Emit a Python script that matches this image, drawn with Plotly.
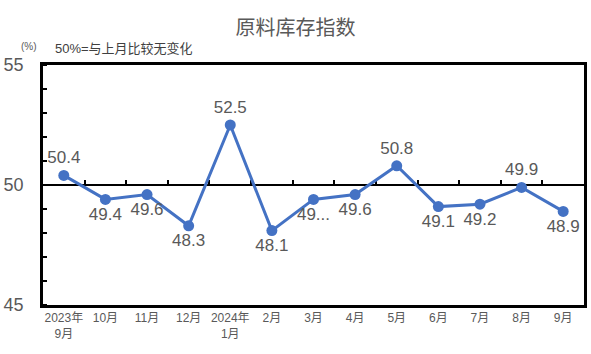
import plotly.graph_objects as go

# ---- data ----
months = ["2023年<br>9月", "10月", "11月", "12月", "2024年<br>1月", "2月", "3月",
          "4月", "5月", "6月", "7月", "8月", "9月"]
values = [50.4, 49.4, 49.6, 48.3, 52.5, 48.1, 49.4, 49.6, 50.8, 49.1, 49.2, 49.9, 48.9]
labels = ["50.4", "49.4", "49.6", "48.3", "52.5", "48.1", "49...", "49.6", "50.8",
          "49.1", "49.2", "49.9", "48.9"]
label_pos = ["top center", "bottom center", "bottom center", "bottom center", "top center",
             "bottom center", "bottom center", "bottom center", "top center", "bottom center",
             "bottom center", "top center", "bottom center"]
y_ticks = [45, 50, 55]
title = "原料库存指数"
unit = "(%)"
note = "50%=与上月比较无变化"

FONT = "Liberation Sans, Arial, Noto Sans CJK SC, sans-serif"
GREY = "#595959"
BLUE = "#4472C4"

n = len(months)
xs = list(range(n))

fig = go.Figure()
fig.add_trace(go.Scatter(
    x=xs, y=values, mode="lines+markers+text",
    line=dict(color=BLUE, width=3),
    marker=dict(color=BLUE, size=11),
    text=labels, textposition=label_pos,
    textfont=dict(family=FONT, size=17, color=GREY),
    cliponaxis=False, showlegend=False, hoverinfo="skip"))
# invisible trace to host the 50% reference axis
fig.add_trace(go.Scatter(x=[xs[0]], y=[50], xaxis="x2", mode="markers",
                         marker=dict(opacity=0), showlegend=False, hoverinfo="skip"))

fig.update_layout(
    width=591, height=354,
    margin=dict(l=43, r=4, t=65, b=49),
    paper_bgcolor="white", plot_bgcolor="white",
    font=dict(family=FONT, color=GREY),
    title=dict(text=title, x=0.5, xanchor="center", y=1 - 28 / 354, yanchor="middle",
               font=dict(family=FONT, size=20, color=GREY)),
    xaxis=dict(
        range=[-0.5, n - 0.5], tickmode="array", tickvals=xs, ticktext=months,
        showgrid=False, zeroline=False, ticks="",
        showline=True, mirror=True, linecolor="black", linewidth=2.5,
        tickfont=dict(family=FONT, size=12, color=GREY)),
    xaxis2=dict(
        range=[-0.5, n - 0.5], overlaying="x", anchor="free", position=0.5,
        showline=True, linecolor="black", linewidth=2, layer="below traces",
        tickmode="array", tickvals=[i + 0.5 for i in xs[:-1]],
        ticks="inside", ticklen=4, tickwidth=1.5, tickcolor="black",
        showticklabels=False, showgrid=False, zeroline=False),
    yaxis=dict(
        range=[45, 55], tickmode="array", tickvals=y_ticks,
        showgrid=False, zeroline=False,
        showline=True, mirror=True, linecolor="black", linewidth=2.5,
        ticks="", minor=dict(dtick=1, ticks="inside", ticklen=4, tickwidth=1.5,
                             tickcolor="black", showgrid=False),
        ticklabelstandoff=13,
        tickfont=dict(family=FONT, size=18, color=GREY)),
    annotations=[
        dict(text=unit, xref="paper", yref="paper", x=(29 - 43) / 544, y=(305 - 46) / 240,
             xanchor="center", yanchor="middle", showarrow=False,
             font=dict(family=FONT, size=10, color=GREY)),
        dict(text=note, xref="paper", yref="paper", x=(53 - 43) / 544, y=(305 - 48) / 240,
             xanchor="left", yanchor="middle", showarrow=False,
             font=dict(family=FONT, size=13, color="#404040")),
    ],
)

fig.write_html("out.html")
